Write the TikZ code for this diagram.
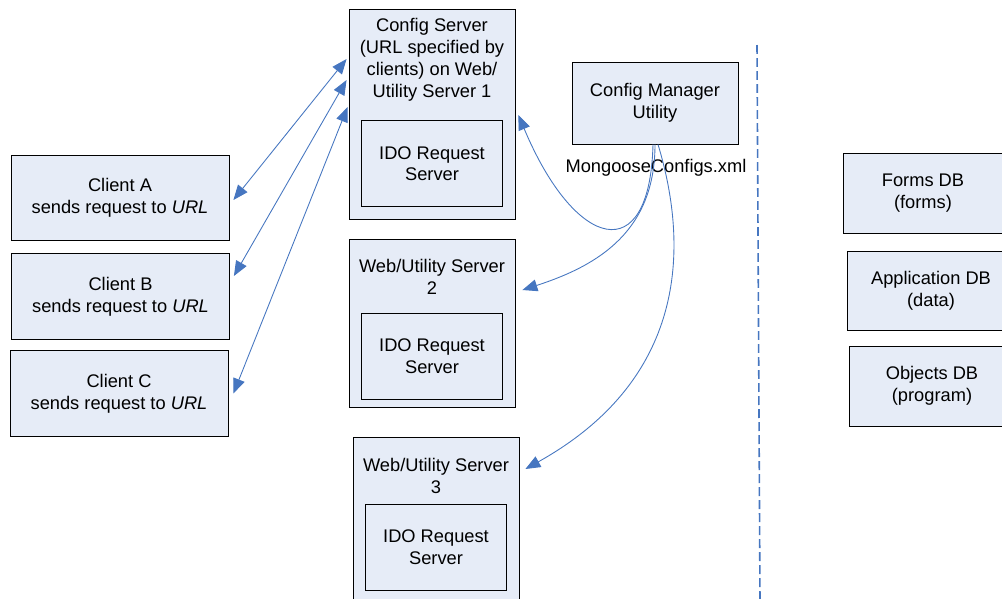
\documentclass[tikz,border=0pt]{standalone}
\usepackage{fontspec}
\setmainfont{Liberation Sans}
\usetikzlibrary{positioning,calc,arrows.meta}
\definecolor{boxfill}{RGB}{230,236,247}
\definecolor{linkblue}{RGB}{70,118,192}

\begin{document}
\begin{tikzpicture}[
x=0.02cm, y=-0.02cm,
font=\fontsize{10.4}{12.4}\selectfont,
>={Triangle[length=8.5pt,width=6.8pt]},
box/.style={rectangle, draw=black, line width=0.5pt, fill=boxfill, inner sep=0pt, align=center},
client/.style={box, minimum width=4.36cm, minimum height=1.71cm},
server/.style={box, minimum width=3.32cm},
ido/.style={box, minimum width=2.82cm, minimum height=1.72cm},
db/.style={box, minimum height=1.6cm},
title/.style={align=center, inner sep=0pt},
link/.style={linkblue, line width=0.5pt},
divider/.style={linkblue, line width=0.9pt, dash pattern=on 5.1pt off 2.3pt}]
\useasboundingbox (0,0) rectangle (1002,599);
\clip (0,0) rectangle (1002,599);

% clients
\node [client] (cliA) at (120,198) {Client A\\sends request to \textit{URL}};
\node [client] (cliB) at (120.5,296.5) {Client B\\sends request to \textit{URL}};
\node [client] (cliC) at (119,393.5) {Client C\\sends request to \textit{URL}};

% web/utility servers
\node [server, minimum height=4.2cm] (cfg) at (432,114) {};
\node [title] (cfgtitle) [below=0.19cm of cfg.north] {Config Server\\(URL specified by\\clients) on Web/\\Utility Server 1};
\node [ido] (cfgido) [below=0.38cm of cfgtitle] {IDO Request\\Server};

\node [server, minimum height=3.36cm] (ws2) at (432,323) {};
\node [title] (ws2title) [below=0.41cm of ws2.north] {Web/Utility Server\\2};
\node [ido] (ws2ido) [below=0.36cm of ws2title] {IDO Request\\Server};

\node [server, minimum height=3.76cm] (ws3) at (436,531) {};
\node [title] (ws3title) [below=0.43cm of ws3.north] {Web/Utility Server\\3};
\node [ido] (ws3ido) [below=0.2cm of ws3title] {IDO Request\\Server};

% config manager
\node [server, minimum height=1.64cm] (mgr) at (655,103) {Config Manager\\Utility};
\node [title] (xml) at (656,168) {MongooseConfigs.xml};

% databases
\node [db, minimum width=3.2cm] (forms) at (923,193) {Forms DB\\(forms)};
\node [db, minimum width=3.36cm, minimum height=1.58cm] (app) at (931,290.5) {Application DB\\(data)};
\node [db, minimum width=3.32cm] (obj) at (932,386) {Objects DB\\(program)};

\coordinate (divtop) at (757,45);
\coordinate (divbot) at (760,600);
\draw [divider] (divtop) -- (divbot);

\draw [link,<->] ($(cliA.east)+(4,2)$) -- ($(cfg.west)+(-2,-55)$);
\draw [link,<->] ($(cliB.east)+(4,-20.5)$) -- ($(cfg.west)+(-2,-34)$);
\draw [link,<->] ($(cliC.east)+(5,0)$) -- ($(cfg.west)+(-1,-7)$);

\draw [link,->] ($(mgr.south)+(-2,0)$) .. controls (650,270) and (575,250) .. ($(cfg.east)+(3,1)$);
\draw [link,->] (mgr.south) .. controls (655,230) and (600,265) .. ($(ws2.east)+(7,-33)$);
\draw [link,->] ($(mgr.south)+(3,0)$) .. controls (690,250) and (685,380) .. ($(ws3.east)+(6,-62)$);
\end{tikzpicture}
\end{document}
